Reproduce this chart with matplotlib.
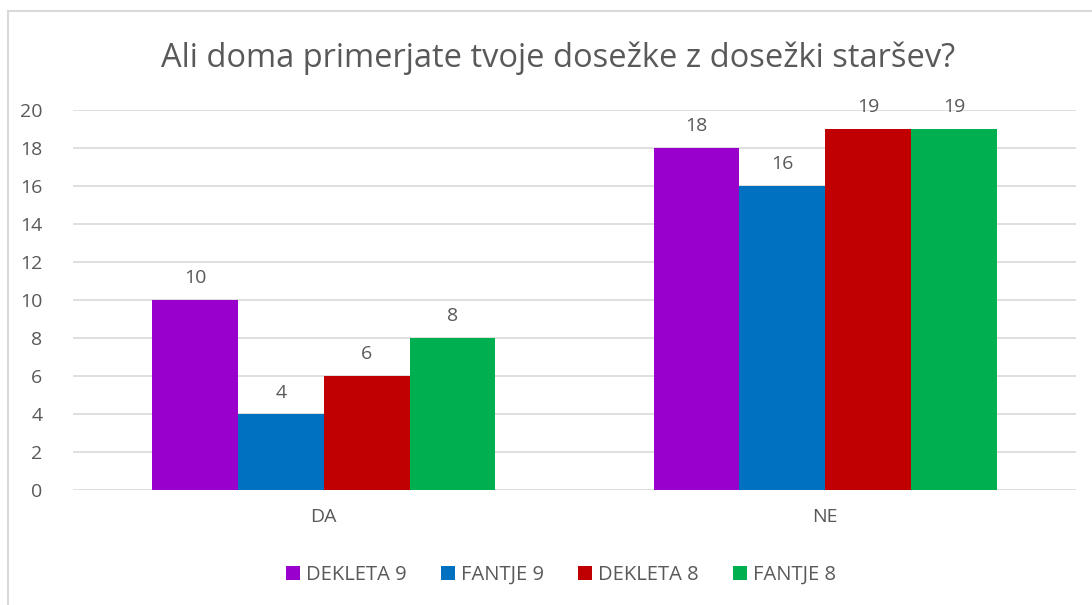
import numpy as np
import matplotlib
matplotlib.use('Agg')
import matplotlib.pyplot as plt
from matplotlib.patches import Rectangle

# --- podatki ---
categories = ['DA', 'NE']
series_names = ['DEKLETA 9', 'FANTJE 9', 'DEKLETA 8', 'FANTJE 8']
dekleta_9 = [10, 18]
fantje_9 = [4, 16]
dekleta_8 = [6, 19]
fantje_8 = [8, 19]
colors = ['#9900CC', '#0070C0', '#C00000', '#00B050']
title = 'Ali doma primerjate tvoje dosežke z dosežki staršev?'

plt.rcParams['font.family'] = ['Open Sans', 'DejaVu Sans']
text_color = '#595959'
grid_color = '#D9D9D9'

fig = plt.figure(figsize=(10.92, 6.05), dpi=100)
fig.patches.append(Rectangle((8 / 1092, -0.1), 1.2, 1 - 11 / 605 + 0.1,
                             transform=fig.transFigure, fill=False,
                             edgecolor=grid_color, linewidth=1.5))

ax = fig.add_axes([73 / 1092, 1 - 490 / 605, (1076 - 73) / 1092, 380 / 605])

x = np.arange(len(categories))
width = 0.171
all_series = [dekleta_9, fantje_9, dekleta_8, fantje_8]
for i, (vals, name, col) in enumerate(zip(all_series, series_names, colors)):
    pos = x + (i - 1.5) * width
    bars = ax.bar(pos, vals, width, color=col, label=name, zorder=3)
    for b, v in zip(bars, vals):
        ax.annotate(str(v), (b.get_x() + b.get_width() / 2, v),
                    xytext=(0, 9), textcoords='offset points',
                    ha='center', va='bottom', fontsize=14, color=text_color)

ax.set_xlim(-0.5, 1.5)
ax.set_ylim(0, 20)
ax.set_yticks(range(0, 21, 2))
ax.set_xticks(x)
ax.set_xticklabels(categories)
ax.grid(axis='y', color=grid_color, linewidth=1.2, zorder=0)
for s in ax.spines.values():
    s.set_visible(False)
ax.tick_params(length=0, labelsize=14, labelcolor=text_color)
ax.tick_params(axis='y', pad=22)
ax.tick_params(axis='x', pad=13)

fig.text(558 / 1092, 1 - 58 / 605, title, ha='center', va='center',
         fontsize=23.5, color=text_color)

leg = fig.legend(loc='center', bbox_to_anchor=(561 / 1092, 1 - 575 / 605),
                 ncol=4, frameon=False, fontsize=14.5, handlelength=0.7,
                 handleheight=0.7, handletextpad=0.3, columnspacing=1.7)
for t in leg.get_texts():
    t.set_color(text_color)

fig.savefig('out.png', dpi=100)
